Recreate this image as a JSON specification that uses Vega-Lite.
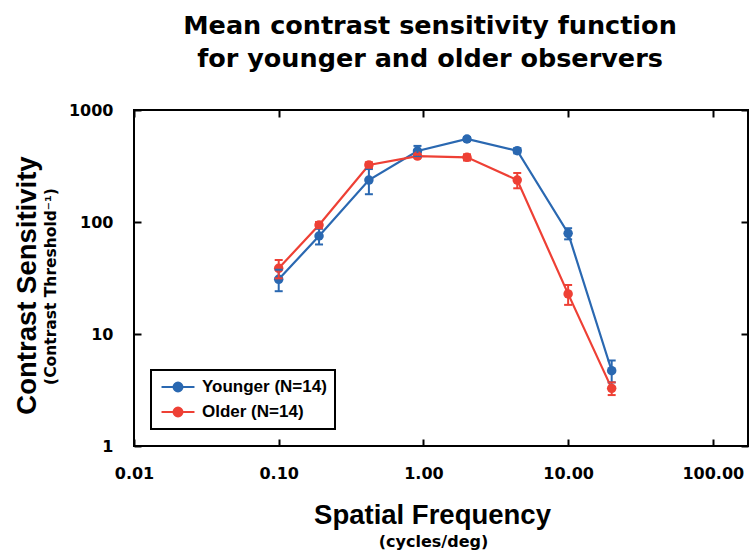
{
  "$schema": "https://vega.github.io/schema/vega-lite/v6.json",
  "width": 614,
  "height": 336,
  "autosize": {"type": "none"},
  "padding": {"left": 134, "top": 110, "right": 2, "bottom": 107},
  "background": "white",
  "title": {
    "text": ["Mean contrast sensitivity function", "for younger and older observers"],
    "font": "DejaVu Sans",
    "fontSize": 25.5,
    "fontWeight": "bold",
    "color": "black",
    "anchor": "middle",
    "dx": -11,
    "offset": 29,
    "lineHeight": 33.3
  },
  "config": {
    "view": {"stroke": "black", "strokeWidth": 2},
    "axis": {
      "grid": false,
      "domain": false,
      "labelFont": "DejaVu Sans",
      "labelFontSize": 16,
      "labelFontWeight": "bold",
      "labelColor": "black",
      "titleFont": "Liberation Sans",
      "titleFontWeight": "bold",
      "titleColor": "black",
      "tickColor": "black",
      "tickWidth": 2,
      "labelFlush": false,
      "labelOverlap": false
    }
  },
  "data": {
    "values": [
      {"group": "Younger (N=14)", "sf": 0.1, "cs": 30.8, "lo": 24.1, "hi": 37.5},
      {"group": "Younger (N=14)", "sf": 0.19, "cs": 75, "lo": 63, "hi": 87},
      {"group": "Younger (N=14)", "sf": 0.42, "cs": 237, "lo": 177, "hi": 297},
      {"group": "Younger (N=14)", "sf": 0.91, "cs": 430, "lo": 382, "hi": 478},
      {"group": "Younger (N=14)", "sf": 2.0, "cs": 551, "lo": 528, "hi": 574},
      {"group": "Younger (N=14)", "sf": 4.45, "cs": 433, "lo": 410, "hi": 456},
      {"group": "Younger (N=14)", "sf": 10, "cs": 79.3, "lo": 70, "hi": 88},
      {"group": "Younger (N=14)", "sf": 20, "cs": 4.7, "lo": 3.7, "hi": 5.8},
      {"group": "Older (N=14)", "sf": 0.1, "cs": 38.6, "lo": 31.4, "hi": 45.8},
      {"group": "Older (N=14)", "sf": 0.19, "cs": 94, "lo": 88, "hi": 100},
      {"group": "Older (N=14)", "sf": 0.42, "cs": 323, "lo": 305, "hi": 341},
      {"group": "Older (N=14)", "sf": 0.91, "cs": 388, "lo": 372, "hi": 404},
      {"group": "Older (N=14)", "sf": 2.0, "cs": 378, "lo": 354, "hi": 402},
      {"group": "Older (N=14)", "sf": 4.45, "cs": 237, "lo": 200, "hi": 274},
      {"group": "Older (N=14)", "sf": 10, "cs": 22.8, "lo": 18.2, "hi": 27.4},
      {"group": "Older (N=14)", "sf": 20, "cs": 3.27, "lo": 2.85, "hi": 3.7}
    ]
  },
  "resolve": {"axis": {"x": "independent", "y": "independent"}},
  "layer": [
    {
      "mark": {"type": "line", "strokeWidth": 2.2},
      "encoding": {
        "x": {
          "field": "sf", "type": "quantitative",
          "scale": {"type": "log", "domain": [0.01, 175], "nice": false},
          "axis": {
            "orient": "bottom",
            "values": [0.01, 0.1, 1, 10, 100],
            "format": ".2f",
            "ticks": false,
            "labelPadding": 19,
            "title": "Spatial Frequency",
            "titleFontSize": 27.5,
            "titleBaseline": "alphabetic",
            "titleAlign": "center",
            "titleX": 298,
            "titleY": 77
          }
        },
        "y": {
          "field": "cs", "type": "quantitative",
          "scale": {"type": "log", "domain": [1, 1000], "nice": false},
          "axis": {
            "orient": "left",
            "values": [1, 10, 100, 1000],
            "format": "d",
            "ticks": false,
            "labelPadding": 21,
            "title": "Contrast Sensitivity",
            "titleFontSize": 27.5,
            "titleAngle": 270,
            "titleBaseline": "alphabetic",
            "titleAlign": "center",
            "titleX": -99,
            "titleY": 175
          }
        },
        "color": {
          "field": "group", "type": "nominal",
          "scale": {"domain": ["Younger (N=14)", "Older (N=14)"], "range": ["#2a68b1", "#ee4035"]},
          "legend": {
            "title": null,
            "orient": "bottom-left",
            "offset": 17,
            "padding": 8,
            "strokeColor": "black",
            "fillColor": "white",
            "cornerRadius": 0,
            "labelFont": "Liberation Sans",
            "labelFontSize": 17,
            "labelFontWeight": "bold",
            "labelColor": "black",
            "symbolType": "M-2.06,0L2.06,0M-0.56,0A0.56,0.56,0,1,0,0.56,0A0.56,0.56,0,1,0,-0.56,0",
            "symbolSize": 256,
            "symbolStrokeWidth": 2,
            "symbolOffset": 10,
            "labelOffset": 15,
            "rowPadding": 7,
            "encode": {
              "legend": {
                "update": {
                  "strokeWidth": {"value": 2},
                  "stroke": {"value": "black"},
                  "fill": {"value": "white"}
                }
              },
              "symbols": {
                "update": {
                  "fill": {"scale": "color", "field": "value"},
                  "stroke": {"scale": "color", "field": "value"},
                  "opacity": {"value": 1}
                }
              }
            }
          }
        }
      }
    },
    {
      "mark": {"type": "circle", "size": 90, "opacity": 1},
      "encoding": {
        "x": {
          "field": "sf", "type": "quantitative",
          "scale": {"type": "log", "domain": [0.01, 175], "nice": false},
          "axis": {
            "orient": "bottom",
            "values": [0.01, 0.1, 1, 10, 100],
            "labels": false,
            "ticks": true,
            "tickSize": -7,
            "title": "(cycles/deg)",
            "titleFont": "DejaVu Sans",
            "titleFontSize": 16,
            "titleBaseline": "alphabetic",
            "titleAlign": "center",
            "titleX": 299,
            "titleY": 100
          }
        },
        "y": {
          "field": "cs", "type": "quantitative",
          "scale": {"type": "log", "domain": [1, 1000], "nice": false},
          "axis": {
            "orient": "left",
            "values": [1, 10, 100, 1000],
            "labels": false,
            "ticks": true,
            "tickSize": -7,
            "title": "(Contrast Threshold⁻¹)",
            "titleFont": "DejaVu Sans",
            "titleFontSize": 15.5,
            "titleAngle": 270,
            "titleBaseline": "alphabetic",
            "titleAlign": "center",
            "titleX": -79,
            "titleY": 176
          }
        },
        "color": {"field": "group", "type": "nominal", "legend": null}
      }
    },
    {
      "mark": {"type": "rule", "strokeWidth": 2},
      "encoding": {
        "x": {
          "field": "sf", "type": "quantitative",
          "scale": {"type": "log", "domain": [0.01, 175], "nice": false},
          "axis": {
            "orient": "top",
            "values": [0.01, 0.1, 1, 10, 100],
            "labels": false,
            "ticks": true,
            "tickSize": -7,
            "title": null
          }
        },
        "y": {
          "field": "lo", "type": "quantitative",
          "scale": {"type": "log", "domain": [1, 1000], "nice": false},
          "axis": {
            "orient": "right",
            "values": [1, 10, 100, 1000],
            "labels": false,
            "ticks": true,
            "tickSize": -7,
            "title": null
          }
        },
        "y2": {"field": "hi"},
        "color": {"field": "group", "type": "nominal", "legend": null}
      }
    },
    {
      "transform": [{"fold": ["lo", "hi"], "as": ["end", "bound"]}],
      "mark": {"type": "tick", "orient": "horizontal", "size": 8, "thickness": 2, "opacity": 1},
      "encoding": {
        "x": {
          "field": "sf", "type": "quantitative",
          "scale": {"type": "log", "domain": [0.01, 175], "nice": false},
          "axis": null
        },
        "y": {
          "field": "bound", "type": "quantitative",
          "scale": {"type": "log", "domain": [1, 1000], "nice": false},
          "axis": null
        },
        "color": {"field": "group", "type": "nominal", "legend": null}
      }
    }
  ]
}
